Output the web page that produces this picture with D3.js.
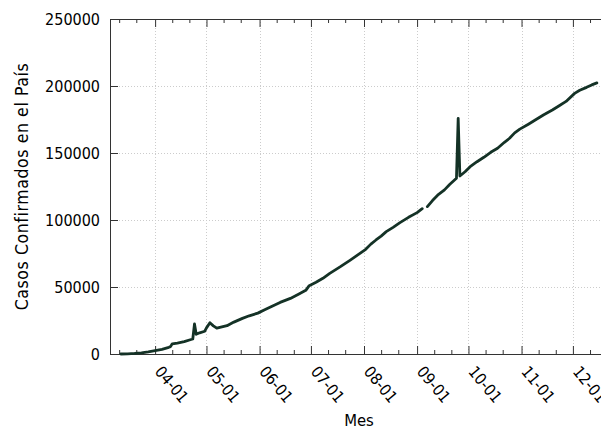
<!DOCTYPE html>
<html><head><meta charset="utf-8">
<script src="https://cdn.jsdelivr.net/npm/d3@7"></script>
<style>
html,body{margin:0;padding:0;background:#fff;}
svg{display:block;font-family:"DejaVu Sans Condensed","DejaVu Sans",sans-serif;}
</style></head>
<body><svg id="c" width="601" height="429"></svg>
<script>
const dates = ["2020-03-12","2020-03-16","2020-03-20","2020-03-24","2020-03-28","2020-04-01","2020-04-05","2020-04-09","2020-04-10","2020-04-11","2020-04-14","2020-04-18","2020-04-22","2020-04-23","2020-04-24","2020-04-25","2020-04-27","2020-04-30","2020-05-01","2020-05-03","2020-05-05","2020-05-07","2020-05-10","2020-05-13","2020-05-17","2020-05-22","2020-05-26","2020-05-31","2020-06-04","2020-06-08","2020-06-13","2020-06-19","2020-06-24","2020-06-28","2020-06-30","2020-07-04","2020-07-08","2020-07-12","2020-07-18","2020-07-24","2020-07-29","2020-08-02","2020-08-05","2020-08-08","2020-08-11","2020-08-14","2020-08-18","2020-08-22","2020-08-27","2020-09-01","2020-09-04","2020-09-05","2020-09-06","2020-09-07","2020-09-10","2020-09-13","2020-09-17","2020-09-20","2020-09-24","2020-09-25","2020-09-26","2020-09-29","2020-10-02","2020-10-06","2020-10-10","2020-10-14","2020-10-18","2020-10-22","2020-10-25","2020-10-28","2020-10-31","2020-11-05","2020-11-09","2020-11-14","2020-11-19","2020-11-23","2020-11-27","2020-12-02","2020-12-05","2020-12-09","2020-12-12","2020-12-15"];
const cases = [0,100,400,900,1600,2500,3500,5000,5500,7600,8200,9200,10800,11200,22400,14700,15800,17000,19500,23300,21000,19300,20200,21100,23800,26600,28500,30500,33000,35500,38500,41500,44800,47500,51000,53500,56500,60200,65000,70100,74500,78100,82000,85100,88000,91300,94500,98000,102000,105500,108500,null,null,110000,114500,118500,122500,126500,131200,175900,132800,136000,139800,143500,146800,150500,153500,158000,161000,165000,167800,171500,174600,178500,182100,185300,188500,194500,196800,199000,200800,202300];
const yTicks = [0,50000,100000,150000,200000,250000];
const xDomain = ["2020-03-05T15:36","2020-12-21T12:00"];
const yLabel = "Casos Confirmados en el País";
const xLabel = "Mes";

const parse = d3.timeParse("%Y-%m-%d");
const parseT = d3.timeParse("%Y-%m-%dT%H:%M");
const data = dates.map((d,i)=>({date:parse(d), v:cases[i]}));

const L=110, R=608, T=19, B=354;
const svg = d3.select("#c");
const x = d3.scaleTime().domain(xDomain.map(parseT)).range([L,R]);
const y = d3.scaleLinear().domain([0,250000]).range([B,T]);

const months = d3.timeMonth.range(d3.timeMonth.ceil(x.domain()[0]), x.domain()[1]);
const minors = d3.timeDay.range(x.domain()[0], x.domain()[1]).filter(d=>d.getDate()===11||d.getDate()===21);

// grid
const grid = svg.append("g").attr("stroke","#cccccc").attr("stroke-width",1).attr("stroke-dasharray","1,2");
months.forEach(m=>{const px=Math.round(x(m))+0.5;grid.append("line").attr("x1",px).attr("x2",px).attr("y1",T).attr("y2",B);});
yTicks.slice(1,-1).forEach(t=>{const py=Math.round(y(t))+0.5;grid.append("line").attr("x1",L).attr("x2",R).attr("y1",py).attr("y2",py);});

// axes via d3
const fmt = d3.timeFormat("%m-%d");
const xAx = svg.append("g").attr("transform",`translate(0,${B})`)
  .call(d3.axisBottom(x).tickValues(months).tickSize(-8).tickFormat(""));
const xAxTop = svg.append("g").attr("transform",`translate(0,${T})`)
  .call(d3.axisTop(x).tickValues(months).tickSize(-8).tickFormat(""));
const xMin = svg.append("g").attr("transform",`translate(0,${B})`)
  .call(d3.axisBottom(x).tickValues(minors).tickSize(-4).tickFormat(""));
const xMinTop = svg.append("g").attr("transform",`translate(0,${T})`)
  .call(d3.axisTop(x).tickValues(minors).tickSize(-4).tickFormat(""));
const yAx = svg.append("g").attr("transform",`translate(${L},0)`)
  .call(d3.axisLeft(y).tickValues(yTicks).tickSize(-8).tickFormat(""));
[xAx,xAxTop,xMin,xMinTop,yAx].forEach(g=>{g.select(".domain").remove();g.selectAll("line").attr("stroke","#333");});

// frame
svg.append("rect").attr("x",L+0.5).attr("y",T+0.5).attr("width",R-L).attr("height",B-T)
  .attr("fill","none").attr("stroke","#333").attr("stroke-width",1);

// tick labels
svg.append("g").selectAll("text").data(months).join("text")
  .attr("transform",d=>`translate(${x(d)-1},${B+18}) rotate(50)`)
  .attr("font-size",16).attr("fill","#000").text(d=>fmt(d));
svg.append("g").selectAll("text").data(yTicks).join("text")
  .attr("x",L-10).attr("y",d=>y(d)).attr("dy","0.36em").attr("text-anchor","end")
  .attr("font-size",16).attr("fill","#000").text(d=>d);

// labels
svg.append("text").attr("transform",`translate(28,${(T+B)/2}) rotate(-90)`).attr("text-anchor","middle")
  .attr("font-size",17.5).attr("letter-spacing",0.6).attr("fill","#000").text(yLabel);
svg.append("text").attr("x",(L+R)/2).attr("y",426).attr("text-anchor","middle")
  .attr("font-size",16.5).attr("fill","#000").text(xLabel);

// line
const line = d3.line().defined(d=>d.v!==null).x(d=>x(d.date)).y(d=>y(d.v)).curve(d3.curveLinear);
svg.append("path").datum(data).attr("d",line).attr("fill","none").attr("stroke","#143226")
  .attr("stroke-width",2.8).attr("stroke-linejoin","round").attr("stroke-linecap","round");
</script></body></html>
